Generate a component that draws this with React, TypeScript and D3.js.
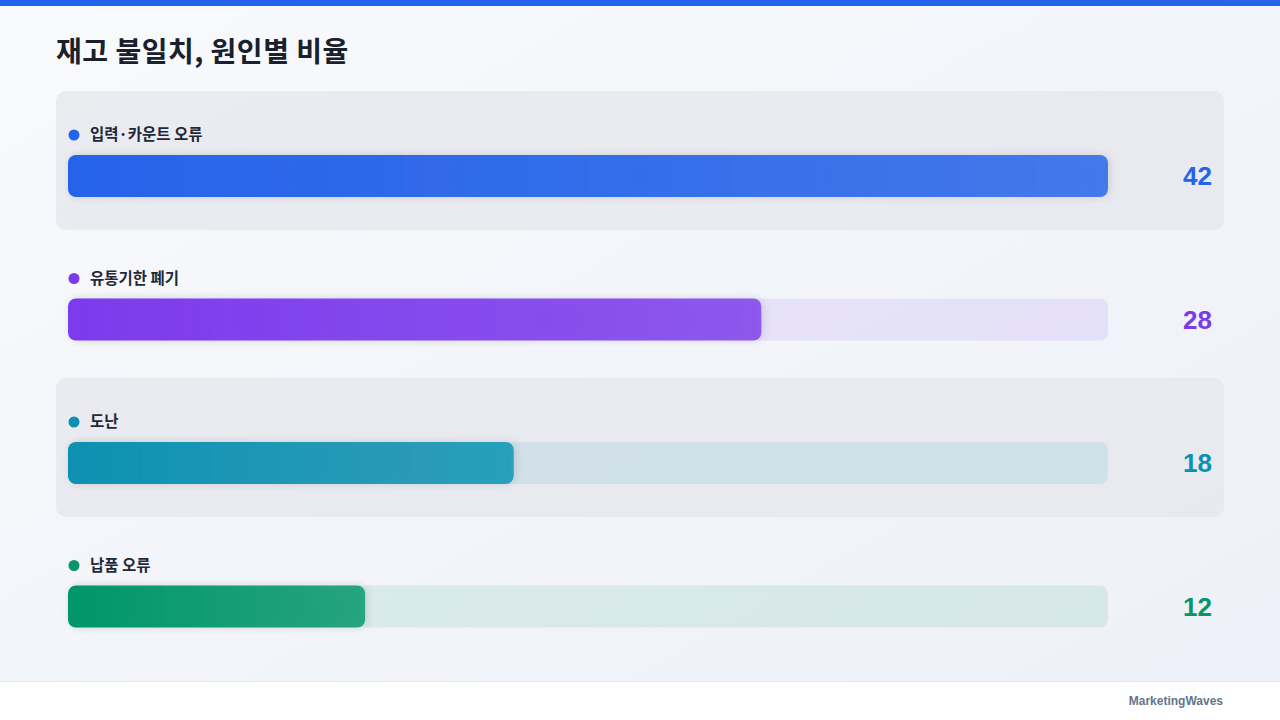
import React from 'react';
import * as d3 from 'd3';

const categories = ['입력·카운트 오류', '유통기한 폐기', '도난', '납품 오류'];
const values = [42, 28, 18, 12];
const colors = ['#2563eb', '#7c3aed', '#0891b2', '#059669'];

const W = 1280;
const H = 720;
const KR = '"Noto Sans CJK KR", "Noto Sans", sans-serif';
const NUM = '"Liberation Sans", Arial, sans-serif';

const App: React.FC = () => {
  const x = d3.scaleLinear().domain([0, d3.max(values)!]).range([68, 1108]);
  const y = d3.scaleBand<string>().domain(categories).range([91, 91 + 143.5 * categories.length]).padding(0);

  return (
    <div style={{ position: 'fixed', left: 0, top: 0, width: W, height: H }}>
      <svg width={W} height={H} style={{ display: 'block' }}>
        <defs>
          <linearGradient id="bg" x1="0" y1="0" x2="1" y2="1">
            <stop offset="0%" stopColor="#f8fafc" />
            <stop offset="100%" stopColor="#edf0f8" />
          </linearGradient>
          {colors.map((c, i) => (
            <linearGradient key={i} id={`bar${i}`} x1="0" y1="0" x2="1" y2="0">
              <stop offset="0%" stopColor={c} />
              <stop offset="100%" stopColor={c} stopOpacity={0.8} />
            </linearGradient>
          ))}
          <filter id="glow" x="-10%" y="-50%" width="120%" height="200%">
            <feGaussianBlur in="SourceAlpha" stdDeviation="4" result="b" />
            <feOffset dx="2" dy="0" in="b" result="o" />
            <feComponentTransfer in="o" result="s">
              <feFuncA type="linear" slope="0.15" />
            </feComponentTransfer>
            <feMerge>
              <feMergeNode in="s" />
              <feMergeNode in="SourceGraphic" />
            </feMerge>
          </filter>
        </defs>

        <rect width={W} height={H} fill="url(#bg)" />
        <rect width={W} height={6} fill="#2563eb" />

        <text x={56} y={62} fontFamily={KR} fontWeight={700} fontSize={28} letterSpacing={0.5} fill="#1a202c">
          재고 불일치, 원인별 비율
        </text>

        {categories.map((cat, i) => {
          const top = y(cat)!;
          const c = colors[i];
          return (
            <g key={cat}>
              {i % 2 === 0 && (
                <rect x={56} y={top} width={1168} height={y.bandwidth() - 4.5} rx={10} fill="#e4e6eb" fillOpacity={0.72} />
              )}
              <circle cx={74} cy={top + 44} r={5.5} fill={c} />
              <text x={90} y={top + 49} fontFamily={KR} fontWeight={600} fontSize={15.5} fill="#1f2937">
                {cat}
              </text>
              <rect x={x(0)} y={top + 64} width={x.range()[1] - x(0)} height={42} rx={8} fill={c} fillOpacity={0.1} />
              <rect
                x={x(0)}
                y={top + 64}
                width={x(values[i]) - x(0)}
                height={42}
                rx={8}
                fill={`url(#bar${i})`}
                filter="url(#glow)"
              />
              <text
                x={1212}
                y={top + 85}
                dy="0.36em"
                textAnchor="end"
                fontFamily={NUM}
                fontWeight={700}
                fontSize={26}
                fill={c}
              >
                {values[i]}
              </text>
            </g>
          );
        })}

        <rect x={0} y={681} width={W} height={39} fill="#ffffff" />
        <line x1={0} x2={W} y1={681.5} y2={681.5} stroke="#e2e8f0" />
        <text x={1223} y={705} textAnchor="end" fontFamily={NUM} fontWeight={700} fontSize={12} fill="#64748b">
          MarketingWaves
        </text>
      </svg>
    </div>
  );
};

export default App;
